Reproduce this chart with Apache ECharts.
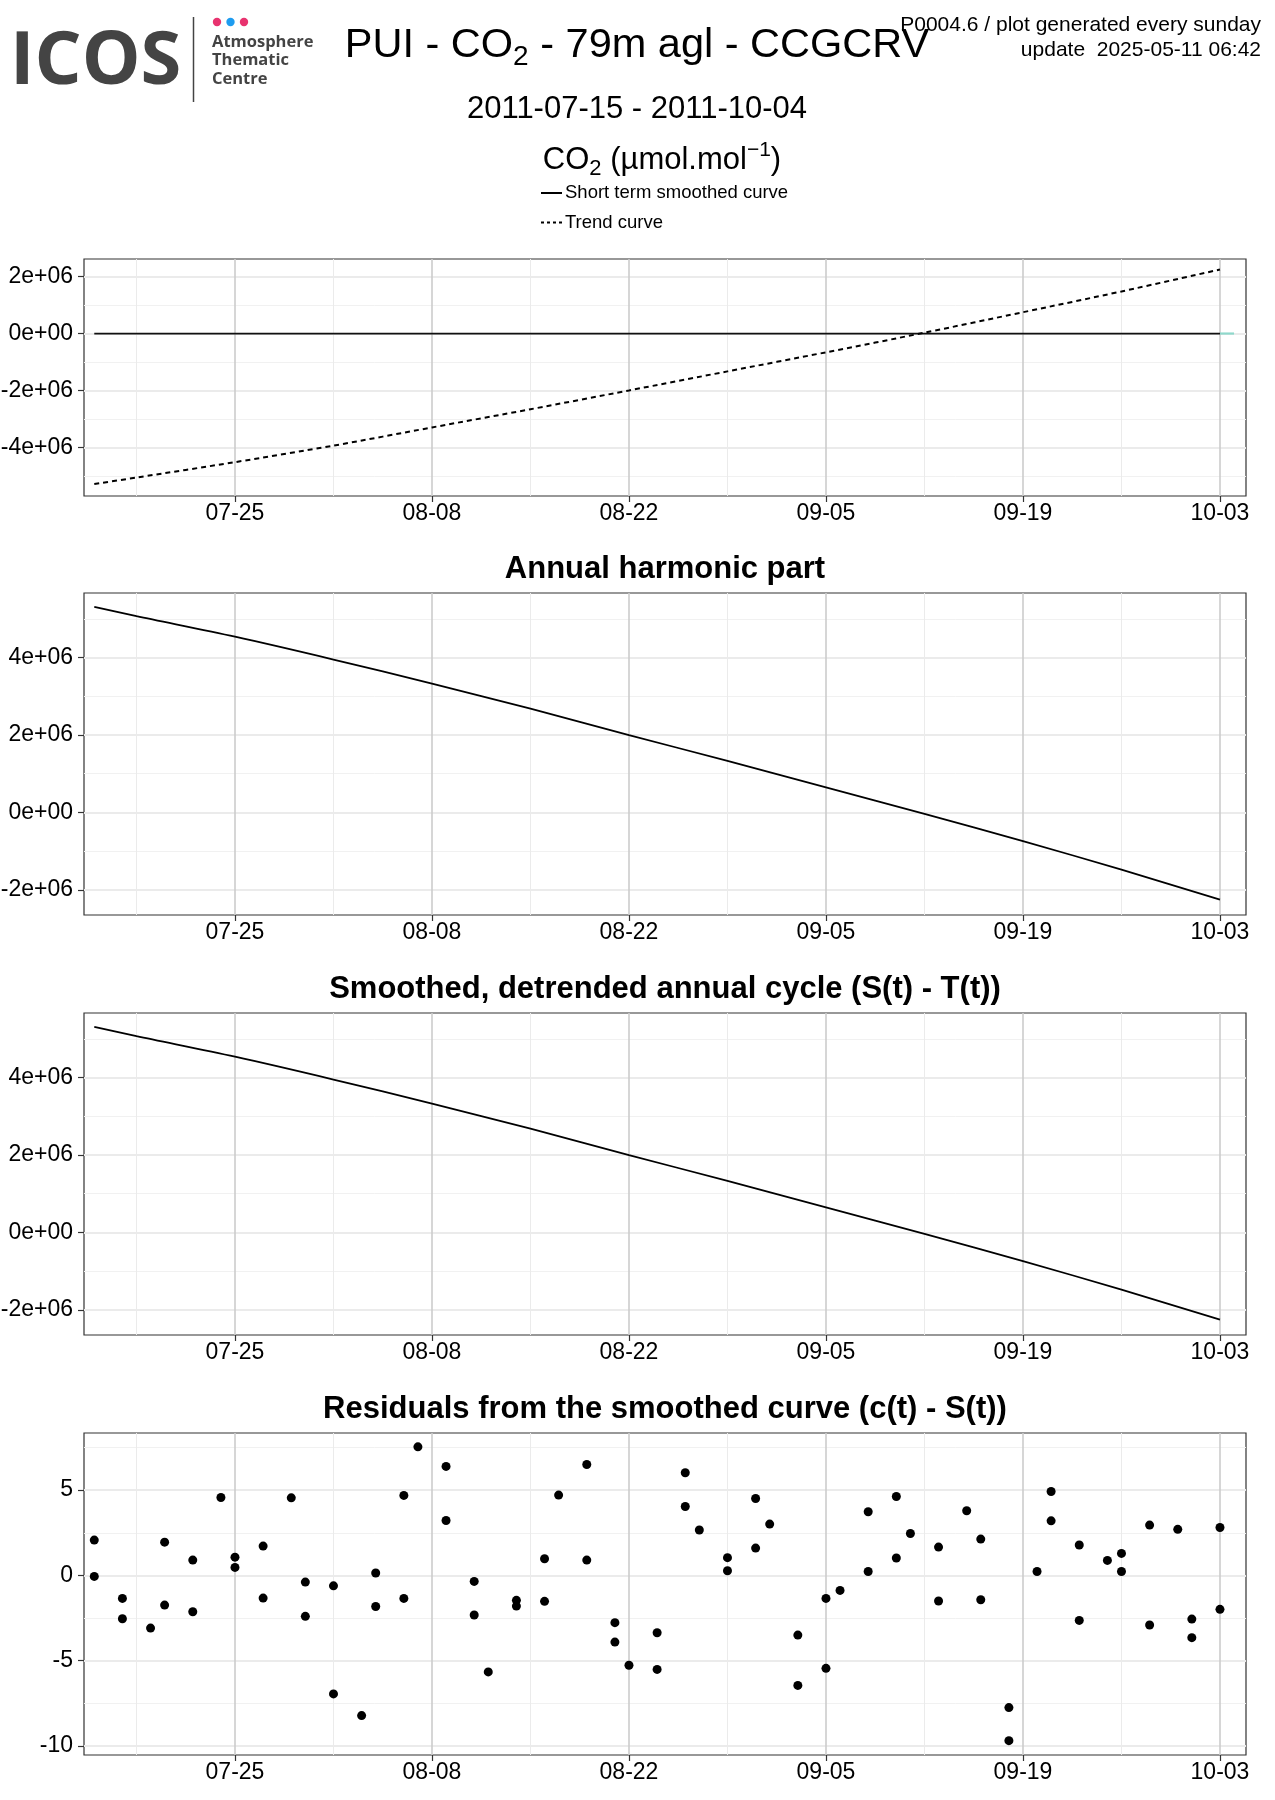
<!DOCTYPE html>
<html><head><meta charset="utf-8">
<script src="https://cdn.jsdelivr.net/npm/echarts@6/dist/echarts.min.js"></script>
<style>html,body{margin:0;padding:0;background:#fff}#c{width:1275px;height:1800px}</style>
</head><body><div id="c"></div><script>
// ---------------- data ----------------
const curveDates = ['2011-07-15','2011-07-18','2011-07-25','2011-08-01','2011-08-08','2011-08-15','2011-08-22','2011-08-29','2011-09-05','2011-09-12','2011-09-19','2011-09-26','2011-10-03'];
const smoothValues = [0,0,0,0,0,0,0,0,0,0,0,0,0];
const smoothTailDates = ['2011-10-03','2011-10-04'];
const smoothTailValues = [0,0];
const trendValues = [-5.29e6,-5.06e6,-4.52e6,-3.94e6,-3.30e6,-2.66e6,-2.00e6,-1.33e6,-0.66e6,0.03e6,0.75e6,1.48e6,2.25e6];
const harmonicValues = [5.31e6,5.07e6,4.54e6,3.95e6,3.33e6,2.68e6,2.00e6,1.33e6,0.65e6,-0.04e6,-0.74e6,-1.48e6,-2.25e6];
const detrendedValues = [5.31e6,5.07e6,4.54e6,3.95e6,3.33e6,2.68e6,2.00e6,1.33e6,0.65e6,-0.04e6,-0.74e6,-1.48e6,-2.25e6];
const residualDates = ['2011-07-15','2011-07-15','2011-07-17','2011-07-17','2011-07-19','2011-07-20','2011-07-20','2011-07-22','2011-07-22','2011-07-24',
 '2011-07-25','2011-07-25','2011-07-27','2011-07-27','2011-07-29','2011-07-30','2011-07-30','2011-08-01','2011-08-01','2011-08-03',
 '2011-08-04','2011-08-04','2011-08-06','2011-08-06','2011-08-07','2011-08-09','2011-08-09','2011-08-11','2011-08-11','2011-08-12',
 '2011-08-14','2011-08-14','2011-08-16','2011-08-16','2011-08-17','2011-08-19','2011-08-19','2011-08-21','2011-08-21','2011-08-22',
 '2011-08-24','2011-08-24','2011-08-26','2011-08-26','2011-08-27','2011-08-29','2011-08-29','2011-08-31','2011-08-31','2011-09-01',
 '2011-09-03','2011-09-03','2011-09-05','2011-09-05','2011-09-06','2011-09-08','2011-09-08','2011-09-10','2011-09-10','2011-09-11',
 '2011-09-13','2011-09-13','2011-09-15','2011-09-16','2011-09-16','2011-09-18','2011-09-18','2011-09-20','2011-09-21','2011-09-21',
 '2011-09-23','2011-09-23','2011-09-25','2011-09-26','2011-09-26','2011-09-28','2011-09-28','2011-09-30','2011-10-01','2011-10-01',
 '2011-10-03','2011-10-03'];
const residualValues = [2.07,-0.06,-1.35,-2.54,-3.09,1.95,-1.74,0.90,-2.13,4.57,
 1.07,0.47,1.72,-1.33,4.55,-0.39,-2.40,-0.61,-6.95,-8.22,
 0.14,-1.82,4.69,-1.35,7.54,6.39,3.22,-0.35,-2.32,-5.66,
 -1.46,-1.80,0.98,-1.52,4.71,6.50,0.90,-2.77,-3.91,-5.27,
 -3.36,-5.51,6.02,4.04,2.66,1.04,0.27,4.51,1.60,3.01,
 -3.50,-6.45,-1.35,-5.45,-0.88,3.73,0.23,4.63,1.02,2.46,
 1.66,-1.50,3.79,2.13,-1.43,-7.75,-9.69,0.23,4.92,3.20,
 1.78,-2.64,0.88,1.29,0.23,2.95,-2.91,2.70,-2.56,-3.65,
 2.81,-1.99];
const majorDates = ['2011-07-25','2011-08-08','2011-08-22','2011-09-05','2011-09-19','2011-10-03'];
const minorDates = ['2011-07-18','2011-08-01','2011-08-15','2011-08-29','2011-09-12','2011-09-26'];
const yMajorCO2 = [-4e6,-2e6,0,2e6];
const yMinorCO2 = [-5e6,-3e6,-1e6,1e6];
const yMajorCycle = [-2e6,0,2e6,4e6];
const yMinorCycle = [-1e6,1e6,3e6,5e6];
const yMajorResid = [-10,-5,0,5];
const yMinorResid = [-7.5,-2.5,2.5,7.5];
const panelTitles = ['Annual harmonic part','Smoothed, detrended annual cycle (S(t) - T(t))','Residuals from the smoothed curve (c(t) - S(t))'];

// ---------------- helpers ----------------
const DAY = 86400000;
const ts = s => Date.UTC(+s.slice(0,4), +s.slice(5,7)-1, +s.slice(8,10));
const zip = (d, v) => d.map((s, i) => [ts(s), v[i]]);
const pad = n => String(n).padStart(2,'0');
const fmtDate = v => { const d = new Date(v); return pad(d.getUTCMonth()+1) + '-' + pad(d.getUTCDate()); };
const sci = v => {
  if (v === 0) return '0e+00';
  const e = Math.floor(Math.log10(Math.abs(v)));
  const m = v / Math.pow(10, e);
  return (Math.round(m*100)/100) + 'e' + (e >= 0 ? '+' : '-') + pad(Math.abs(e));
};
const FONT = 'Liberation Sans, Arial, sans-serif';
const xMin = ts('2011-07-15') - 0.73*DAY;
const xMax = ts('2011-10-04') + 0.85*DAY;

const grids = [
  {top:259, height:237, yMin:-5.71e6, yMax:2.62e6, maj:yMajorCO2, min:yMinorCO2, fmt:sci},
  {top:593, height:322, yMin:-2.65e6, yMax:5.67e6, maj:yMajorCycle, min:yMinorCycle, fmt:sci},
  {top:1013, height:322, yMin:-2.65e6, yMax:5.67e6, maj:yMajorCycle, min:yMinorCycle, fmt:sci},
  {top:1433, height:322, yMin:-10.53, yMax:8.35, maj:yMajorResid, min:yMinorResid, fmt:v=>String(v)}
];

const gridOpt = [], xAxis = [], yAxis = [];
grids.forEach((g, i) => {
  gridOpt.push({left:84, right:29, top:g.top, height:g.height, show:true, borderColor:'#333', borderWidth:1.2, backgroundColor:'#fff', containLabel:false, outerBoundsMode:'none'});
  xAxis.push({type:'value', gridIndex:i, min:xMin, max:xMax, position:'top', axisLine:{show:false, onZero:false}, axisLabel:{show:false},
    axisTick:{show:false, customValues: minorDates.map(ts)},
    splitLine:{show:true, lineStyle:{color:'#ebebeb', width:1}}});
  xAxis.push({type:'value', gridIndex:i, min:xMin, max:xMax, position:'bottom', axisLine:{show:false, onZero:false},
    axisTick:{show:true, length:6, lineStyle:{color:'#333', width:1.2}, customValues: majorDates.map(ts)},
    axisLabel:{show:true, customValues: majorDates.map(ts), formatter: fmtDate, fontSize:23, color:'#000', fontFamily:FONT, margin:6},
    splitLine:{show:true, lineStyle:{color:'#cccccc', width:1.6}}});
  yAxis.push({type:'value', gridIndex:i, min:g.yMin, max:g.yMax, position:'right', axisLine:{show:false, onZero:false}, axisLabel:{show:false},
    axisTick:{show:false, customValues: g.min},
    splitLine:{show:true, lineStyle:{color:'#f1f1f1', width:1}}});
  yAxis.push({type:'value', gridIndex:i, min:g.yMin, max:g.yMax, position:'left', axisLine:{show:false, onZero:false},
    axisTick:{show:true, length:6, lineStyle:{color:'#333', width:1.2}, customValues: g.maj},
    axisLabel:{show:true, customValues: g.maj, formatter: g.fmt, fontSize:23, color:'#000', fontFamily:FONT, margin:11},
    splitLine:{show:true, lineStyle:{color:'#ebebeb', width:2}}});
});

const series = [
  {type:'line', xAxisIndex:1, yAxisIndex:1, data: zip(smoothTailDates, smoothTailValues), symbol:'none', lineStyle:{color:'#8fd8cb', width:2.2}, z:3},
  {type:'line', xAxisIndex:1, yAxisIndex:1, data: zip(curveDates, smoothValues), symbol:'none', lineStyle:{color:'#111', width:1.8}, z:4},
  {type:'line', xAxisIndex:1, yAxisIndex:1, data: zip(curveDates, trendValues), symbol:'none', smooth:0.3, lineStyle:{color:'#000', width:2, type:[5,4]}, z:4},
  {type:'line', xAxisIndex:3, yAxisIndex:3, data: zip(curveDates, harmonicValues), symbol:'none', smooth:0.3, lineStyle:{color:'#000', width:1.8}},
  {type:'line', xAxisIndex:5, yAxisIndex:5, data: zip(curveDates, detrendedValues), symbol:'none', smooth:0.3, lineStyle:{color:'#000', width:1.8}},
  {type:'scatter', xAxisIndex:7, yAxisIndex:7, data: zip(residualDates, residualValues), symbol:'circle', symbolSize:9, itemStyle:{color:'#000', opacity:1}}
];

const T = (text, x, y, size, opts) => Object.assign({type:'text', silent:true, style:Object.assign({text, x, y, fontSize:size, fontFamily:FONT, fill:'#000',
  align:'left', verticalAlign:'middle', textAlign:'left', textVerticalAlign:'middle'}, opts||{})});

const graphic = [
  // logo
  {type:'text', silent:true, style:{text:'ICOS', x:10, y:63, fontSize:74, fontWeight:'bold', fontFamily:'Open Sans, sans-serif', fill:'#444', align:'left', verticalAlign:'middle', textAlign:'left', textVerticalAlign:'middle'}},
  {type:'line', silent:true, shape:{x1:193.5, y1:17, x2:193.5, y2:102}, style:{stroke:'#444', lineWidth:1.5}},
  {type:'circle', silent:true, shape:{cx:217, cy:22, r:4.2}, style:{fill:'#e8336f'}},
  {type:'circle', silent:true, shape:{cx:230.5, cy:22, r:4.2}, style:{fill:'#1e9cf0'}},
  {type:'circle', silent:true, shape:{cx:244, cy:22, r:4.2}, style:{fill:'#e8336f'}},
  T('Atmosphere', 212, 42, 16.5, {fontWeight:'bold', fontFamily:'Open Sans, sans-serif', fill:'#444'}),
  T('Thematic', 212, 60.5, 16.5, {fontWeight:'bold', fontFamily:'Open Sans, sans-serif', fill:'#444'}),
  T('Centre', 212, 79, 16.5, {fontWeight:'bold', fontFamily:'Open Sans, sans-serif', fill:'#444'}),
  // main title with subscript
  {type:'text', silent:true, style:{text:'{a|PUI - CO}{s|2}{a| - 79m agl - CCGCRV}', x:637, y:46, align:'center', verticalAlign:'middle', textAlign:'center', textVerticalAlign:'middle',
    fontFamily:FONT, fill:'#000',
    rich:{a:{fontSize:41.5, lineHeight:50, fontFamily:FONT, fill:'#000'}, s:{fontSize:28, lineHeight:28, verticalAlign:'bottom', fontFamily:FONT, fill:'#000'}}}},
  // top-right info
  T('P0004.6 / plot generated every sunday', 1261, 25, 21, {align:'right', textAlign:'right'}),
  T('update  2025-05-11 06:42', 1261, 50, 21, {align:'right', textAlign:'right'}),
  // date range
  T('2011-07-15 - 2011-10-04', 637, 109, 31, {align:'center', textAlign:'center'}),
  // unit label
  {type:'text', silent:true, style:{text:'{a|CO}{s|2}{a| (µmol.mol}{p|−1}{a|)}', x:662, y:160, align:'center', verticalAlign:'middle', textAlign:'center', textVerticalAlign:'middle',
    fontFamily:FONT, fill:'#000',
    rich:{a:{fontSize:31, lineHeight:40, fontFamily:FONT, fill:'#000'}, s:{fontSize:22, lineHeight:22, verticalAlign:'bottom', fontFamily:FONT, fill:'#000'}, p:{fontSize:21, lineHeight:21, verticalAlign:'top', fontFamily:FONT, fill:'#000'}}}},
  // legend
  {type:'line', silent:true, shape:{x1:541, y1:193, x2:562, y2:193}, style:{stroke:'#000', lineWidth:2}},
  T('Short term smoothed curve', 565, 193, 18.5),
  {type:'line', silent:true, shape:{x1:541, y1:222.5, x2:562, y2:222.5}, style:{stroke:'#000', lineWidth:2, lineDash:[3,3]}},
  T('Trend curve', 565, 222.5, 18.5),
  // panel titles
  T(panelTitles[0], 665, 569, 31, {align:'center', textAlign:'center', fontWeight:'bold'}),
  T(panelTitles[1], 665, 989, 31, {align:'center', textAlign:'center', fontWeight:'bold'}),
  T(panelTitles[2], 665, 1409, 31, {align:'center', textAlign:'center', fontWeight:'bold'})
];

const chart = echarts.init(document.getElementById('c'), null, {renderer:'canvas'});
chart.setOption({animation:false, backgroundColor:'#fff', grid:gridOpt, xAxis, yAxis, series, graphic});
</script></body></html>
